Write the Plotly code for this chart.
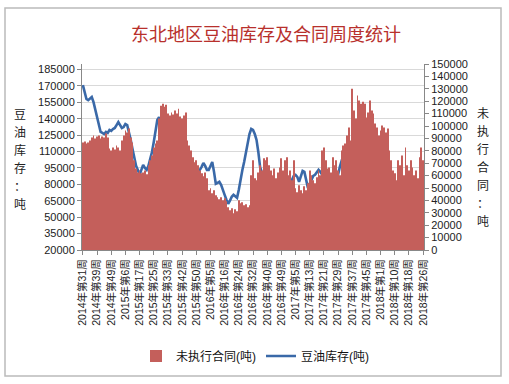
import plotly.graph_objects as go

W, H = 509, 384
L, R, T, B = 82, 85, 64, 134

# x tick labels (every 8th week shown)
tick_labels = ["2014年第31周", "2014年第39周", "2014年第49周", "2015年第6周", "2015年第17周",
               "2015年第25周", "2015年第33周", "2015年第42周", "2015年第50周", "2016年第5周",
               "2016年第16周", "2016年第24周", "2016年第32周", "2016年第40周", "2016年第49周",
               "2017年第5周", "2017年第13周", "2017年第21周", "2017年第29周", "2017年第37周",
               "2017年第45周", "2018年第1周", "2018年第10周", "2018年第18周", "2018年第26周"]
tick_step = 8

# 未执行合同 (吨) - right axis
contracts = [
    86700, 87500, 85900, 86700, 88300, 90700, 92300, 89900, 91500, 92300,
    89900, 91500, 90700, 94000, 90700, 81900, 80300, 82700, 81100, 84300,
    82700, 80300, 88300, 92300, 96400, 94800, 98000, 90700, 86700, 72300,
    65800, 62600, 64200, 61800, 62600, 64200, 61000, 68300, 72300, 76300,
    82700, 85900, 88300, 106000, 116400, 118000, 115600, 117200, 110000, 108400,
    110800, 109200, 112400, 110000, 114000, 107600, 106000, 108400, 110800, 88300,
    84300, 80300, 74700, 70700, 72300, 68300, 64200, 61800, 59400, 62600,
    57800, 48200, 49800, 45800, 48200, 44200, 42600, 41000, 42600, 40200,
    41800, 39300, 34500, 32100, 33700, 29700, 32900, 31300, 40200, 37700,
    38500, 36100, 36900, 34500, 36100, 60200, 72300, 57800, 56200, 62600,
    68300, 64200, 73900, 72300, 74700, 68300, 64200, 60200, 65800, 57800,
    62600, 66600, 73900, 64200, 72300, 74700, 60200, 64200, 56200, 72300,
    49800, 46600, 52200, 48200, 45800, 51400, 48200, 53800, 64200, 60200,
    56200, 53800, 58600, 64200, 60200, 80300, 82700, 72300, 65800, 66600,
    62600, 74700, 68300, 72300, 64200, 60200, 80300, 84300, 85900, 92300,
    98800, 88300, 130100, 112400, 106000, 124500, 120500, 118000, 119600, 118000,
    106800, 110800, 120500, 112400, 110000, 102000, 98800, 92300, 96400, 100400,
    98800, 94800, 98000, 80300, 72300, 64200, 61800, 56200, 72300, 68300,
    76300, 60200, 82700, 68300, 64200, 72300, 66600, 60200, 64200, 57800,
    74700, 82700, 72300]

# 豆油库存 (吨) - left axis
stock = [
    170700, 164300, 158000, 157000, 158900, 159800, 155200, 147900, 141500, 133300,
    127900, 127000, 126000, 127900, 127000, 129700, 128800, 130600, 131500, 134200,
    137000, 134200, 131500, 132400, 135200, 134200, 127900, 120600, 112400, 104200,
    96900, 93200, 88700, 93200, 97800, 95000, 93200, 96900, 102300, 109600,
    118700, 129700, 138800, 141500, 136100, 131500, 131500, 130600, 130600, 129700,
    124200, 118700, 116000, 115100, 114200, 113300, 110500, 113300, 114200, 106900,
    100500, 96000, 91400, 90500, 91400, 92300, 93200, 96000, 99600, 96900,
    93200, 93200, 96900, 100500, 91400, 80500, 81400, 82300, 79500, 74100,
    70400, 65900, 62200, 65000, 68600, 70400, 68600, 67700, 75000, 85900,
    93200, 100500, 109600, 117800, 126000, 130600, 129700, 126000, 120600, 109600,
    96000, 90500, 89600, 95000, 96000, 91400, 87700, 79500, 75900, 75000,
    73200, 70400, 69500, 72200, 75900, 78600, 80500, 81400, 84100, 87700,
    88700, 86800, 82300, 86800, 92300, 91400, 82300, 76800, 80500, 85000,
    87700, 88700, 90500, 93200, 91400, 88700, 86800, 85900, 85900, 84100,
    83200, 82300, 83200, 85900, 88700, 96000, 101400, 100500, 95000, 88700,
    84100, 81400, 78600, 76800, 80500, 85000, 86800, 88700, 88700, 87700,
    85900, 84100, 75000, 71300, 71300, 70400, 70400, 65900, 56700, 51300,
    46700, 43100, 41200, 39400, 38500, 36700, 35800, 36700, 35800, 34000,
    32100, 31200, 27600, 26700, 26700, 26700, 29400, 33000, 37600, 43100,
    49500, 58600, 65900]

left_title = ["豆", "油", "库", "存", "：", "吨"]
right_title = ["未", "执", "行", "合", "同", "：", "吨"]

idx = list(range(len(stock)))
tickvals = [i * tick_step for i in range(len(tick_labels))]

pw, ph = W - L - R, H - T - B
def px(x):
    return (x - L) / pw
def py(y):
    return (H - B - y) / ph

FONT = "Liberation Sans, Arial, Noto Sans CJK SC, sans-serif"

fig = go.Figure()
fig.add_trace(go.Bar(x=idx, y=contracts, name="未执行合同(吨)", yaxis="y2",
                     marker=dict(color="#C45F5B", line=dict(width=0))))
fig.add_trace(go.Scatter(x=idx, y=stock, name="豆油库存(吨)", mode="lines",
                         line=dict(color="#3A69A8", width=2.6)))

fig.update_layout(
    width=W, height=H, autosize=False,
    margin=dict(l=L, r=R, t=T, b=B),
    paper_bgcolor="white", plot_bgcolor="white",
    font=dict(family=FONT, size=11, color="#222"),
    bargap=0.55,
    showlegend=True,
    legend=dict(orientation="h", x=px(255), xanchor="center", y=py(356), yanchor="middle",
                font=dict(size=12, color="#111"), itemwidth=30, traceorder="normal"),
    xaxis=dict(range=[-0.5, len(idx) - 0.5], tickmode="array", tickvals=tickvals,
               ticktext=tick_labels, tickangle=-90, tickfont=dict(size=10.5, color="#222"),
               showgrid=False, showline=True, linecolor="#888", linewidth=1,
               ticks="outside", ticklen=4, tickcolor="#888", zeroline=False),
    yaxis=dict(range=[20000, 190000], tick0=20000, dtick=15000, showgrid=True,
               gridcolor="#D9D9D9", gridwidth=1, showline=True, linecolor="#888",
               ticks="outside", ticklen=4, tickcolor="#888", zeroline=False,
               tickfont=dict(size=11, color="#222"), tickformat="d"),
    yaxis2=dict(range=[0, 150000], dtick=10000, overlaying="y", side="right",
                showgrid=False, showline=True, linecolor="#888", ticks="outside",
                ticklen=4, tickcolor="#888", zeroline=False,
                tickfont=dict(size=11, color="#222"), tickformat="d"),
)

fig.add_annotation(text="东北地区豆油库存及合同周度统计", xref="paper", yref="paper",
                   x=px(266), y=py(33), showarrow=False, xanchor="center", yanchor="middle",
                   font=dict(size=18, color="#B8302C", family="Noto Sans CJK SC"))
for k, ch in enumerate(left_title):
    fig.add_annotation(text=ch, xref="paper", yref="paper", x=px(20), y=py(113 + 18 * k),
                       showarrow=False, xanchor="center", yanchor="middle",
                       font=dict(size=12, color="#222", family="Noto Sans CJK SC"))
for k, ch in enumerate(right_title):
    fig.add_annotation(text=ch, xref="paper", yref="paper", x=px(483), y=py(112 + 18 * k),
                       showarrow=False, xanchor="center", yanchor="middle",
                       font=dict(size=12, color="#222", family="Noto Sans CJK SC"))

# outer chart frame
fig.add_shape(type="rect", xref="paper", yref="paper", x0=px(5), x1=px(501), y0=py(376), y1=py(8),
              line=dict(color="#BBBBBB", width=1.5), fillcolor="rgba(0,0,0,0)", layer="below")

fig.write_html("out.html", config={"displayModeBar": False},
               post_script="document.body.style.margin='0';")
